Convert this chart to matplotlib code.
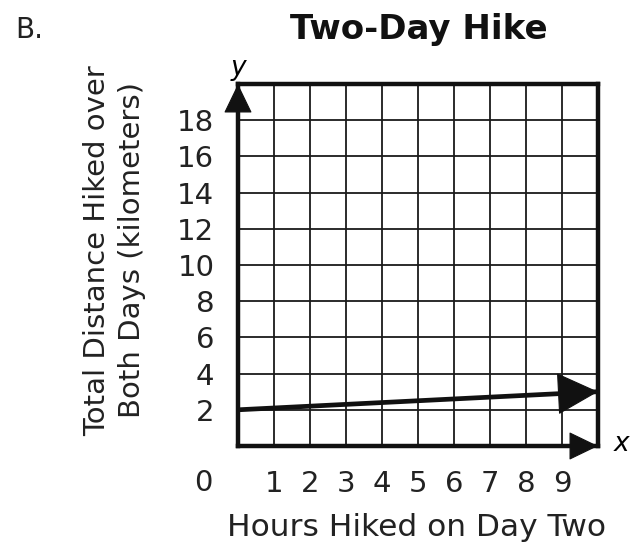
import matplotlib
matplotlib.use("Agg")
from matplotlib import pyplot as plt

# 数据
hours = [0, 10]
distance = [2, 3]
x_ticks = [1, 2, 3, 4, 5, 6, 7, 8, 9]
y_ticks = [2, 4, 6, 8, 10, 12, 14, 16, 18]

plt.rcParams['font.family'] = ['DejaVu Sans']

fig = plt.figure(figsize=(6.37, 5.47), dpi=100)
W, H = 637, 547
ax = fig.add_axes([238 / W, (H - 446) / H, 360 / W, 362 / H])
ax.set_xlim(0, 10)
ax.set_ylim(0, 20)

# 网格
ax.set_xticks(range(0, 11))
ax.set_yticks(range(0, 21, 2))
ax.grid(True, color='#1a1a1a', linewidth=1.3)
ax.tick_params(length=0, labelsize=21, pad=17, colors='#222222')
ax.set_xticklabels([''] + [str(t) for t in x_ticks] + [''])
ax.set_yticklabels([''] + [str(t) for t in y_ticks] + [''])

for side in ['top', 'right', 'left', 'bottom']:
    ax.spines[side].set_linewidth(3.2)
    ax.spines[side].set_color('#111111')
    ax.spines[side].set_zorder(3)

# 坐标轴箭头（只画箭头头部）
head = dict(arrowstyle='-|>,head_length=0.6,head_width=0.29', lw=0.8,
            color='#111111', mutation_scale=32, shrinkA=0, shrinkB=0)
ax.annotate('', xy=(0, 20), xytext=(0, 0), arrowprops=head, annotation_clip=False)
ax.annotate('', xy=(10, 0), xytext=(0, 0), arrowprops=head, annotation_clip=False)

# 数据线
ax.plot(hours, distance, color='#111111', lw=3.4, solid_capstyle='butt', zorder=4)
ax.annotate('', xy=(hours[1], distance[1]), xytext=(hours[0], distance[0]),
            arrowprops=dict(arrowstyle='-|>,head_length=0.86,head_width=0.44',
                            lw=0.8, color='#111111', mutation_scale=32,
                            shrinkA=0, shrinkB=0),
            annotation_clip=False, zorder=5)

ax.text(-0.95, -2.05, '0', fontsize=21, color='#222222', ha='center', va='center')
ax.text(10.65, 0.1, 'x', fontsize=19, style='italic', ha='center', va='center')
ax.text(0, 20.9, 'y', fontsize=19, style='italic', ha='center', va='center')

ax.set_xlabel('Hours Hiked on Day Two', fontsize=22.5, color='#222222')
ax.xaxis.set_label_coords(0.497, -0.224)
ax.xaxis.label.set_va('center')
ax.set_ylabel('Total Distance Hiked over\nBoth Days (kilometers)', fontsize=21,
              color='#222222', linespacing=1.3)
ax.yaxis.set_label_coords(-0.342, 0.541)
ax.yaxis.label.set_va('center')

fig.text(419 / W, 1 - 30 / H, 'Two-Day Hike', fontsize=24.5, fontweight='bold',
         ha='center', va='center', color='#111111')
fig.text(15 / W, 1 - 30 / H, 'B.', fontsize=20, ha='left', va='center', color='#222222')

fig.savefig('out.png', dpi=100)
